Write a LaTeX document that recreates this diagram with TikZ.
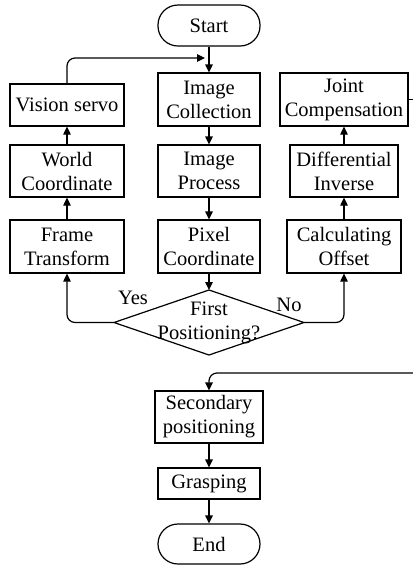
\documentclass[tikz,border=0pt]{standalone}
\usepackage{fontspec}
\setmainfont{Liberation Serif}
\usetikzlibrary{arrows.meta}
\begin{document}
\begin{tikzpicture}[x=1pt,y=-1pt,
  box/.style={draw,line width=1.2pt,inner sep=0pt,align=center,font=\fontsize{20.5}{24}\selectfont},
  term/.style={box,rounded corners=20pt},
  lbl/.style={inner sep=0pt,font=\fontsize{20.5}{24}\selectfont},
  conn/.style={line width=1.2pt,-{Triangle[length=8pt,width=7.5pt]}},
  line/.style={line width=1.2pt}]
\useasboundingbox (0,0) rectangle (413,566);
\node[term,minimum width=102pt,minimum height=41pt] (start) at (209,25.5) {Start};
\node[box,minimum width=102pt,minimum height=53pt] (ic) at (209,99.5) {Image\\Collection};
\node[box,minimum width=114pt,minimum height=42pt] (vs) at (67,105) {Vision servo};
\node[box,minimum width=128pt,minimum height=53pt] (jc) at (344,99.5) {Joint\\Compensation};
\node[box,minimum width=114pt,minimum height=52pt] (wc) at (67,171) {World\\Coordinate};
\node[box,minimum width=102pt,minimum height=52pt] (ip) at (209,171) {Image\\Process};
\node[box,minimum width=108pt,minimum height=52pt] (di) at (344,171) {Differential\\Inverse};
\node[box,minimum width=114pt,minimum height=53pt] (ft) at (67,246.5) {Frame\\Transform};
\node[box,minimum width=102pt,minimum height=53pt] (pc) at (209,246.5) {Pixel\\Coordinate};
\node[box,minimum width=114pt,minimum height=53pt] (co) at (344,246.5) {Calculating\\Offset};
\coordinate (qT) at (209,290);
\coordinate (qB) at (209,355);
\coordinate (qL) at (114,322.5);
\coordinate (qR) at (304,322.5);
\draw[line] (qT) -- (qR) -- (qB) -- (qL) -- cycle;
\node[lbl,align=center] (q) at (209,323) {First\\Positioning?};
\node[lbl] (yes) at (133,298) {Yes};
\node[lbl] (no) at (289,305) {No};
\node[box,minimum width=108pt,minimum height=52pt] (sp) at (209,417) {Secondary\\positioning};
\node[box,minimum width=102pt,minimum height=31pt] (gr) at (209,483.5) {Grasping};
\node[term,minimum width=102pt,minimum height=40pt] (end) at (209,544) {End};
\coordinate (loopend) at (205,58);
\coordinate (jcR) at (413,99.5);
\coordinate (spR) at (413,373);

\draw[conn] (start) -- (ic);
\draw[conn] (ic) -- (ip);
\draw[conn] (ip) -- (pc);
\draw[conn] (pc) -- (qT);
\draw[conn,rounded corners=8pt] (qL) -| (ft.south);
\draw[conn,rounded corners=8pt] (qR) -| (co.south);
\draw[conn] (ft) -- (wc);
\draw[conn] (wc) -- (vs);
\draw[conn,rounded corners=8pt] (vs.north) |- (loopend);
\draw[conn] (co) -- (di);
\draw[conn] (di) -- (jc);
\draw[line] (jc.east) -- (jcR);
\draw[conn,rounded corners=8pt] (spR) -| (sp.north);
\draw[conn] (sp) -- (gr);
\draw[conn] (gr) -- (end);
\end{tikzpicture}
\end{document}
